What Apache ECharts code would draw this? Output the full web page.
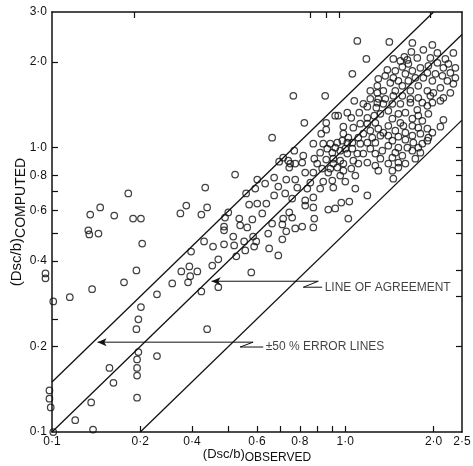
<!DOCTYPE html>
<html><head><meta charset="utf-8">
<script src="https://cdn.jsdelivr.net/npm/echarts@6/dist/echarts.min.js"></script>
<style>html,body{margin:0;padding:0;background:#fff}#c{width:473px;height:466px}</style>
</head><body><div id="c"></div>
<script>
// ---- axis ticks / labels (as printed on the figure) ----
const xTickValues = [0.2,0.3,0.4,0.5,0.6,0.7,0.8,0.9,1.0,2.0];
const xLabelValues = [0.1,0.2,0.3,0.5,0.7,1.0,2.0,2.5];
const xLabelTexts = ['0·1','0·2','0·4','0·6','0·8','1·0','2·0','2·5'];
const yTickValues = [0.2,0.25,0.4,0.5,0.6,0.7,0.8,1.0,2.0];
const yLabelValues = [0.1,0.2,0.4,0.6,0.8,1.0,2.0,3.0];
const yLabelTexts = ['0·1','0·2','0·4','0·6','0·8','1·0','2·0','3·0'];
const topTickValues = [0.19,0.76,0.86,0.95,1.95];
const rightTickValues = [0.2,0.3,0.37,0.5,0.6,0.7,0.8,0.9,1.0];

// ---- reference lines ----
const agreementLine = [[0.1,0.1],[2.5,2.5]];
const upperErrorLine = [[0.1,0.15],[2.0,3.0]];
const lowerErrorLine = [[0.2,0.1],[2.5,1.25]];

// ---- annotation leaders ----
const agreementLeader = [[0.350,0.339],[0.809,0.339],[0.719,0.323],[0.834,0.323]];
const errorLeader = [[0.143,0.207],[0.485,0.207],[0.438,0.199],[0.525,0.199]];
const annotationTexts = ['LINE OF AGREEMENT','±50 % ERROR LINES'];

// ---- data: [observed, computed] ----
const points = [
[0.101,0.100],[0.098,0.140],[0.098,0.131],[0.099,0.122],[0.095,0.361],[0.095,0.347],[0.101,0.288],[0.115,0.298],[0.137,0.318],[0.120,0.110],[0.138,0.102],[0.136,0.127],[0.157,0.168],[0.162,0.149],[0.195,0.132],[0.195,0.158],[0.195,0.168],[0.195,0.180],[0.197,0.191],[0.228,0.185],[0.194,0.230],[0.197,0.249],[0.201,0.275],[0.338,0.230],
[0.135,0.582],[0.133,0.512],[0.134,0.495],[0.144,0.499],
[0.182,0.690],[0.146,0.616],[0.287,0.626],[0.274,0.587],[0.323,0.582],[0.338,0.616],[0.163,0.577],[0.189,0.563],[0.201,0.563],[0.203,0.460],[0.399,0.592],[0.389,0.568],[0.386,0.528],[0.386,0.512],[0.435,0.563],[0.482,0.559],[0.438,0.533],[0.463,0.524],[0.459,0.690],[0.470,0.631],[0.501,0.636],[0.538,0.636],[0.521,0.587],[0.572,0.679],[0.624,0.690],[0.659,0.662],[0.644,0.592],[0.614,0.563],[0.659,0.568],[0.563,0.541],[0.610,0.537],[0.675,0.520],[0.629,0.508],[0.546,0.499],[0.485,0.487],[0.497,0.468],[0.415,0.487],[0.452,0.468],[0.418,0.453],[0.489,0.449],[0.550,0.442],[0.610,0.476],[0.591,0.418],[0.456,0.435],[0.386,0.457],[0.354,0.449],[0.330,0.468],[0.298,0.431],[0.425,0.415],[0.369,0.405],[0.352,0.385],[0.294,0.382],[0.313,0.367],[0.276,0.367],[0.296,0.353],[0.291,0.336],[0.257,0.333],[0.194,0.370],[0.176,0.336],[0.228,0.305],[0.323,0.312],[0.369,0.323],[0.478,0.364],
[0.665,1.522],[0.854,1.522],[0.563,1.084],[0.614,0.922],[0.595,0.893],[0.639,0.900],[0.644,0.851],[0.421,0.804],[0.501,0.772],[0.533,0.748],[0.572,0.785],[0.629,0.772],[0.333,0.724],[0.493,0.718],[0.591,0.730],
[0.725,1.223],[0.861,1.223],[0.924,1.295],[0.946,1.295],[1.016,1.327],[1.073,1.462],[1.189,1.393],[1.276,1.382],[1.286,1.439],[1.116,1.327],[1.189,1.274],[1.256,1.295],[1.317,1.316],[0.861,1.157],[0.828,1.120],[0.985,1.185],[1.048,1.274],[1.125,1.214],[1.065,1.175],[1.189,1.214],[1.266,1.223],[1.296,1.166],[1.317,1.102],[1.217,1.147],[1.152,1.120],[1.108,1.084],[1.236,1.084],[1.348,1.129],[0.985,1.120],[1.024,1.084],[1.057,1.041],[1.016,1.041],[0.977,1.058],[0.939,1.041],[0.889,1.033],[0.924,1.000],[0.841,1.033],[0.778,1.033],[0.868,0.992],[0.821,0.960],[0.903,0.960],[0.961,0.976],[1.000,0.992],[1.057,0.992],[1.125,1.033],[1.189,1.041],[1.266,1.041],[1.217,0.992],[1.337,0.976],[1.099,0.953],[1.016,0.953],[1.152,0.953],[1.266,0.953],[1.317,0.915],[0.670,0.976],[0.719,0.937],[0.784,0.915],[0.861,0.908],[0.910,0.915],[0.961,0.900],[0.910,0.879],[0.985,0.879],[1.065,0.900],[1.189,0.886],[1.266,0.865],[1.296,0.830],[0.649,0.879],[0.675,0.879],[0.713,0.886],[0.802,0.879],[0.834,0.844],[0.889,0.844],[0.939,0.851],[0.985,0.830],[1.108,0.879],[0.730,0.817],[0.778,0.817],[1.048,0.844],[1.082,0.798],[0.875,0.817],[0.961,0.798],[0.903,0.766],[1.000,0.760],[0.675,0.772],[0.841,0.760],[0.760,0.754],[0.821,0.718],[0.910,0.724],[1.082,0.718],[0.742,0.718],[0.686,0.724],
[0.778,0.668],[0.730,0.652],[0.730,0.626],[0.778,0.616],[0.969,0.641],[1.032,0.646],[0.875,0.606],[0.924,0.611],[1.024,0.563],[0.784,0.563],[0.713,0.528],[0.778,0.524],[1.189,0.679],
[1.447,1.427],[1.541,1.427],[1.667,1.439],[1.831,1.439],[1.981,1.439],[1.905,1.404],[1.402,1.348],[1.517,1.316],[1.603,1.327],[1.760,1.359],[1.774,1.295],[1.920,1.316],[1.447,1.264],[1.693,1.264],[1.831,1.243],[2.160,1.253],[2.110,1.185],[1.541,1.223],[1.402,1.194],[1.578,1.194],[1.693,1.194],[1.774,1.175],[1.905,1.166],[1.981,1.129],[1.481,1.147],[1.603,1.129],[1.402,1.102],[1.517,1.093],[1.693,1.102],[1.803,1.120],[1.920,1.084],[1.447,1.058],[1.603,1.067],[1.706,1.041],[1.831,1.033],[1.905,1.058],[1.402,1.016],[1.517,1.000],[1.628,1.000],[1.774,1.000],[1.481,0.960],[1.693,0.976],[1.803,0.960],[1.447,0.922],[1.565,0.937],[1.733,0.915],[1.517,0.886],[1.603,0.879],[1.402,0.879],[1.447,0.830],[1.517,0.851],[1.458,0.778],
[1.099,2.373],[1.413,2.354],[1.180,2.052],[1.057,1.818],[1.693,2.335],[1.846,2.208],[1.981,2.298],[1.680,2.172],[1.590,2.086],[1.541,2.019],[1.760,2.069],[1.628,2.035],[2.061,2.154],[2.194,2.052],[2.336,2.154],[1.950,2.069],[2.246,1.971],[2.373,1.909],[1.458,2.052],[1.641,1.971],[1.565,1.924],[1.803,1.909],[1.920,1.940],[2.061,1.987],[2.160,1.909],[1.481,1.863],[1.693,1.863],[1.391,1.878],[1.905,1.833],[2.029,1.818],[2.143,1.789],[2.282,1.833],[2.373,1.760],[1.369,1.789],[1.458,1.760],[1.603,1.818],[1.733,1.760],[1.846,1.760],[1.981,1.718],[2.229,1.718],[2.336,1.677],[1.296,1.746],[1.517,1.718],[1.641,1.718],[1.286,1.650],[1.424,1.691],[1.565,1.650],[1.774,1.650],[2.110,1.624],[2.282,1.560],[1.348,1.585],[1.481,1.585],[1.667,1.585],[1.905,1.585],[1.997,1.560],[1.217,1.585],[1.286,1.560],[1.458,1.522],[1.565,1.522],[1.774,1.498],[1.950,1.522],[2.160,1.498],[1.217,1.486],[1.296,1.486],[1.369,1.486],[1.667,1.486],[1.152,1.427],[1.348,1.427],[2.110,1.462]
];

const FONT = '"Liberation Sans", Arial, sans-serif';
const INK = '#111';

function labelFor(values, texts) {
  return function (v) {
    let best = 0, bd = Infinity;
    values.forEach((t, i) => { const d = Math.abs(Math.log(v) - Math.log(t)); if (d < bd) { bd = d; best = i; } });
    return texts[best];
  };
}

const frameAxis = { show: true, lineStyle: { color: INK, width: 1.5 } };
const tickStyle = { color: INK, width: 1.2 };

const chart = echarts.init(document.getElementById('c'), null, { renderer: 'canvas' });

function leaderData(pts) {
  return pts.map((p, i) => i === 0
    ? { value: p, symbol: 'arrow', symbolSize: [6, 9], symbolRotate: 90 }
    : { value: p, symbol: 'none' });
}

chart.setOption({
  animation: false,
  backgroundColor: '#fff',
  grid: { left: 52, top: 12, width: 410, height: 420, containLabel: false, outerBoundsMode: 'none' },
  xAxis: [{
    type: 'log', min: 0.1, max: 2.5, position: 'bottom',
    axisLine: frameAxis, splitLine: { show: false }, minorTick: { show: false },
    axisTick: { show: true, inside: true, length: 6, lineStyle: tickStyle, customValues: xTickValues },
    axisLabel: { show: true, customValues: xLabelValues, formatter: labelFor(xLabelValues, xLabelTexts),
      color: INK, fontSize: 12, fontFamily: FONT, margin: 4 },
    name: '{a|(Dsc/b)}{b|OBSERVED}', nameLocation: 'middle', nameGap: 12, nameMoveOverlap: false,
    nameTextStyle: { color: INK, fontFamily: FONT, rich: {
      a: { fontSize: 13, color: INK, fontFamily: FONT },
      b: { fontSize: 12, color: INK, fontFamily: FONT, padding: [8, 0, 0, 0] } } }
  }, {
    type: 'log', min: 0.1, max: 2.5, position: 'top',
    axisLine: frameAxis, splitLine: { show: false },
    axisTick: { show: true, inside: true, length: 6, lineStyle: tickStyle, customValues: topTickValues },
    axisLabel: { show: false }
  }],
  yAxis: [{
    type: 'log', min: 0.1, max: 3.0, position: 'left',
    axisLine: frameAxis, splitLine: { show: false }, minorTick: { show: false },
    axisTick: { show: true, inside: true, length: 6, lineStyle: tickStyle, customValues: yTickValues },
    axisLabel: { show: true, customValues: yLabelValues, formatter: labelFor(yLabelValues, yLabelTexts),
      color: INK, fontSize: 12, fontFamily: FONT, margin: 5 },
    name: '{a|(Dsc/b)}{b|COMPUTED}', nameLocation: 'middle', nameGap: 24, nameRotate: 90, nameMoveOverlap: false,
    nameTextStyle: { color: INK, fontFamily: FONT, rich: {
      a: { fontSize: 15, color: INK, fontFamily: FONT },
      b: { fontSize: 14, color: INK, fontFamily: FONT, padding: [8, 0, 0, 0] } } }
  }, {
    type: 'log', min: 0.1, max: 3.0, position: 'right',
    axisLine: frameAxis, splitLine: { show: false },
    axisTick: { show: true, inside: true, length: 6, lineStyle: tickStyle, customValues: rightTickValues },
    axisLabel: { show: false }
  }],
  series: [
    { type: 'line', data: agreementLine, showSymbol: false, silent: true, lineStyle: { color: INK, width: 1.3 } },
    { type: 'line', data: upperErrorLine, showSymbol: false, silent: true, lineStyle: { color: INK, width: 1.3 } },
    { type: 'line', data: lowerErrorLine, showSymbol: false, silent: true, lineStyle: { color: INK, width: 1.3 } },
    { type: 'line', data: leaderData(agreementLeader), symbol: 'none', showSymbol: true, silent: true,
      itemStyle: { color: INK }, lineStyle: { color: INK, width: 1 } },
    { type: 'line', data: leaderData(errorLeader), symbol: 'none', showSymbol: true, silent: true,
      itemStyle: { color: INK }, lineStyle: { color: INK, width: 1 } },
    { type: 'scatter', silent: true, symbolSize: 1, itemStyle: { color: 'rgba(0,0,0,0)' },
      data: [agreementLeader[3], errorLeader[3]].map((p, i) => ({ value: p, label: {
        show: true, position: 'right', distance: 2, formatter: annotationTexts[i],
        color: INK, fontSize: 12, fontFamily: FONT } })) },
    { type: 'scatter', data: points, symbol: 'circle', symbolSize: 6.5, clip: false, silent: true,
      itemStyle: { color: 'rgba(0,0,0,0)', borderColor: INK, borderWidth: 1.25 } }
  ]
});
</script>
</body></html>
